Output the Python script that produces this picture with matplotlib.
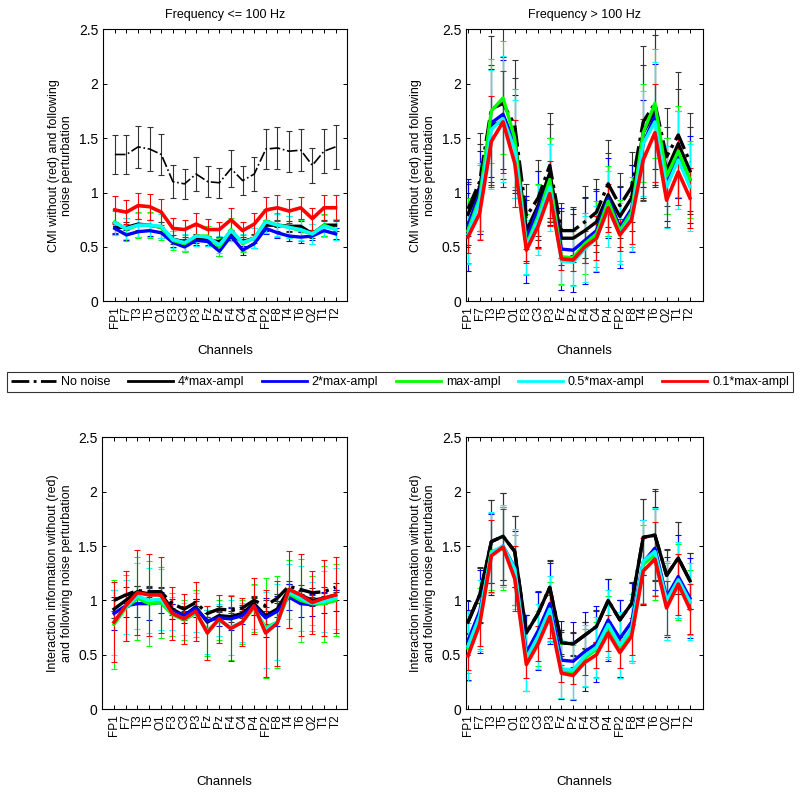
import matplotlib
matplotlib.use("Agg")
import matplotlib.pyplot as plt

plt.rcParams['font.family'] = ['Liberation Sans', 'DejaVu Sans']

channels = ["FP1", "F7", "T3", "T5", "O1", "F3", "C3", "P3", "Fz", "Pz",
            "F4", "C4", "P4", "FP2", "F8", "T4", "T6", "O2", "T1", "T2"]
series_labels = ["No noise", "4*max-ampl", "2*max-ampl", "max-ampl", "0.5*max-ampl", "0.1*max-ampl"]

# top-left: CMI, frequency <= 100 Hz
cmi_low_none = [1.35, 1.35, 1.42, 1.40, 1.35, 1.10, 1.08, 1.17, 1.10, 1.09, 1.22, 1.11, 1.17, 1.40, 1.41, 1.38, 1.39, 1.25, 1.38, 1.42]
cmi_low_x4 = [0.68, 0.68, 0.71, 0.70, 0.68, 0.57, 0.55, 0.58, 0.56, 0.55, 0.61, 0.55, 0.58, 0.70, 0.70, 0.69, 0.69, 0.62, 0.70, 0.70]
cmi_low_x2 = [0.67, 0.61, 0.64, 0.65, 0.63, 0.54, 0.50, 0.56, 0.55, 0.46, 0.60, 0.47, 0.53, 0.67, 0.63, 0.60, 0.59, 0.60, 0.65, 0.62]
cmi_low_x1 = [0.73, 0.66, 0.70, 0.70, 0.68, 0.56, 0.53, 0.60, 0.60, 0.50, 0.66, 0.53, 0.58, 0.74, 0.70, 0.68, 0.65, 0.62, 0.70, 0.66]
cmi_low_x05 = [0.72, 0.67, 0.70, 0.70, 0.69, 0.57, 0.54, 0.60, 0.59, 0.52, 0.65, 0.54, 0.58, 0.73, 0.70, 0.68, 0.66, 0.62, 0.69, 0.66]
cmi_low_x01 = [0.84, 0.82, 0.88, 0.87, 0.82, 0.67, 0.66, 0.71, 0.66, 0.66, 0.75, 0.65, 0.71, 0.84, 0.86, 0.83, 0.86, 0.76, 0.86, 0.86]
cmi_low_none_err = [0.18, 0.18, 0.19, 0.20, 0.19, 0.15, 0.14, 0.16, 0.14, 0.14, 0.17, 0.13, 0.16, 0.18, 0.19, 0.19, 0.19, 0.16, 0.20, 0.20]
cmi_low_x4_err = [0.05, 0.05, 0.05, 0.05, 0.05, 0.04, 0.04, 0.04, 0.04, 0.04, 0.05, 0.04, 0.04, 0.05, 0.05, 0.05, 0.05, 0.04, 0.05, 0.05]
cmi_low_x2_err = [0.05, 0.05, 0.05, 0.05, 0.05, 0.04, 0.04, 0.04, 0.04, 0.04, 0.05, 0.04, 0.04, 0.05, 0.05, 0.05, 0.05, 0.04, 0.05, 0.05]
cmi_low_x1_err = [0.12, 0.11, 0.12, 0.12, 0.12, 0.09, 0.08, 0.09, 0.09, 0.08, 0.11, 0.08, 0.09, 0.11, 0.11, 0.10, 0.10, 0.09, 0.10, 0.10]
cmi_low_x05_err = [0.11, 0.10, 0.11, 0.11, 0.11, 0.08, 0.08, 0.09, 0.08, 0.08, 0.10, 0.08, 0.09, 0.10, 0.10, 0.10, 0.10, 0.09, 0.10, 0.10]
cmi_low_x01_err = [0.13, 0.11, 0.12, 0.12, 0.12, 0.10, 0.09, 0.10, 0.10, 0.07, 0.11, 0.08, 0.10, 0.12, 0.12, 0.11, 0.10, 0.10, 0.12, 0.12]

# top-right: CMI, frequency > 100 Hz
cmi_high_none = [0.85, 1.10, 1.77, 1.82, 1.62, 0.78, 0.95, 1.25, 0.65, 0.65, 0.73, 0.82, 1.08, 0.88, 1.05, 1.65, 1.82, 1.33, 1.53, 1.28]
cmi_high_x4 = [0.80, 1.05, 1.62, 1.65, 1.50, 0.65, 0.88, 1.18, 0.58, 0.58, 0.65, 0.73, 0.98, 0.78, 0.95, 1.55, 1.75, 1.20, 1.45, 1.20]
cmi_high_x2 = [0.70, 1.00, 1.64, 1.72, 1.45, 0.57, 0.85, 1.10, 0.48, 0.47, 0.56, 0.65, 0.95, 0.68, 0.85, 1.45, 1.70, 1.12, 1.35, 1.12]
cmi_high_x1 = [0.65, 0.95, 1.75, 1.87, 1.50, 0.52, 0.78, 1.12, 0.41, 0.40, 0.53, 0.62, 0.92, 0.65, 0.82, 1.55, 1.82, 1.15, 1.38, 1.12]
cmi_high_x05 = [0.62, 0.92, 1.58, 1.68, 1.40, 0.50, 0.75, 1.05, 0.37, 0.36, 0.48, 0.58, 0.85, 0.62, 0.78, 1.45, 1.65, 1.05, 1.30, 1.05]
cmi_high_x01 = [0.59, 0.81, 1.47, 1.65, 1.27, 0.47, 0.69, 0.99, 0.39, 0.38, 0.50, 0.58, 0.86, 0.61, 0.75, 1.30, 1.55, 0.93, 1.19, 0.95]
cmi_high_none_err = [0.25, 0.45, 0.67, 0.70, 0.60, 0.30, 0.35, 0.48, 0.25, 0.22, 0.33, 0.30, 0.40, 0.30, 0.32, 0.70, 0.75, 0.45, 0.58, 0.45]
cmi_high_x4_err = [0.28, 0.40, 0.55, 0.60, 0.55, 0.28, 0.32, 0.45, 0.25, 0.22, 0.30, 0.28, 0.38, 0.28, 0.30, 0.62, 0.70, 0.40, 0.50, 0.40]
cmi_high_x2_err = [0.42, 0.38, 0.50, 0.50, 0.45, 0.40, 0.35, 0.40, 0.38, 0.38, 0.40, 0.38, 0.37, 0.37, 0.40, 0.40, 0.48, 0.38, 0.40, 0.40]
cmi_high_x1_err = [0.30, 0.30, 0.48, 0.52, 0.45, 0.28, 0.30, 0.38, 0.25, 0.25, 0.28, 0.30, 0.32, 0.28, 0.32, 0.45, 0.50, 0.35, 0.42, 0.35]
cmi_high_x05_err = [0.28, 0.35, 0.55, 0.58, 0.45, 0.25, 0.32, 0.40, 0.22, 0.22, 0.30, 0.30, 0.35, 0.28, 0.32, 0.48, 0.55, 0.38, 0.45, 0.40]
cmi_high_x01_err = [0.15, 0.25, 0.42, 0.47, 0.40, 0.12, 0.20, 0.30, 0.10, 0.10, 0.15, 0.20, 0.22, 0.15, 0.22, 0.38, 0.45, 0.25, 0.30, 0.28]

# bottom-left: interaction information, frequency <= 100 Hz
ii_low_none = [1.00, 1.05, 1.09, 1.08, 1.08, 0.97, 0.92, 0.98, 0.88, 0.92, 0.91, 0.93, 1.00, 0.95, 1.02, 1.13, 1.10, 1.07, 1.08, 1.12]
ii_low_x4 = [0.92, 1.00, 1.08, 1.06, 1.06, 0.92, 0.86, 0.94, 0.80, 0.86, 0.85, 0.88, 0.97, 0.86, 0.92, 1.10, 1.05, 1.00, 1.02, 1.05]
ii_low_x2 = [0.88, 0.95, 0.97, 0.97, 0.98, 0.90, 0.86, 0.93, 0.81, 0.84, 0.83, 0.86, 0.95, 0.84, 0.90, 1.03, 0.97, 0.96, 0.98, 1.00]
ii_low_x1 = [0.78, 0.93, 1.02, 0.97, 0.98, 0.87, 0.82, 0.88, 0.72, 0.82, 0.75, 0.80, 0.93, 0.75, 0.80, 1.06, 1.00, 0.97, 0.97, 1.00]
ii_low_x05 = [0.80, 0.94, 1.04, 1.00, 1.01, 0.88, 0.83, 0.89, 0.71, 0.82, 0.75, 0.80, 0.94, 0.73, 0.80, 1.08, 1.02, 0.97, 0.99, 1.02]
ii_low_x01 = [0.80, 0.95, 1.07, 1.05, 1.05, 0.88, 0.83, 0.90, 0.70, 0.83, 0.74, 0.80, 0.95, 0.70, 0.79, 1.10, 1.05, 0.98, 1.02, 1.05]
ii_low_none_err = [0.10, 0.07, 0.04, 0.05, 0.04, 0.04, 0.03, 0.03, 0.03, 0.03, 0.03, 0.03, 0.04, 0.05, 0.04, 0.05, 0.04, 0.04, 0.04, 0.04]
ii_low_x4_err = [0.08, 0.06, 0.05, 0.05, 0.05, 0.05, 0.04, 0.05, 0.05, 0.04, 0.05, 0.04, 0.05, 0.08, 0.07, 0.05, 0.05, 0.05, 0.05, 0.05]
ii_low_x2_err = [0.15, 0.10, 0.12, 0.15, 0.10, 0.07, 0.07, 0.08, 0.07, 0.08, 0.10, 0.08, 0.08, 0.18, 0.14, 0.12, 0.12, 0.10, 0.10, 0.10]
ii_low_x1_err = [0.41, 0.30, 0.38, 0.39, 0.33, 0.20, 0.18, 0.22, 0.23, 0.18, 0.30, 0.20, 0.22, 0.46, 0.42, 0.31, 0.38, 0.25, 0.35, 0.33]
ii_low_x05_err = [0.30, 0.25, 0.30, 0.30, 0.28, 0.15, 0.15, 0.18, 0.20, 0.15, 0.25, 0.18, 0.20, 0.35, 0.35, 0.25, 0.30, 0.20, 0.28, 0.28]
ii_low_x01_err = [0.37, 0.32, 0.39, 0.38, 0.35, 0.24, 0.23, 0.27, 0.25, 0.22, 0.30, 0.22, 0.26, 0.40, 0.39, 0.35, 0.38, 0.29, 0.35, 0.35]

# bottom-right: interaction information, frequency > 100 Hz
ii_high_none = [0.80, 1.05, 1.54, 1.59, 1.45, 0.70, 0.88, 1.12, 0.61, 0.60, 0.68, 0.76, 1.00, 0.82, 0.97, 1.58, 1.60, 1.23, 1.39, 1.18]
ii_high_x4 = [0.80, 1.05, 1.54, 1.59, 1.45, 0.70, 0.88, 1.12, 0.61, 0.60, 0.68, 0.76, 1.00, 0.82, 0.97, 1.58, 1.60, 1.23, 1.39, 1.18]
ii_high_x2 = [0.63, 0.90, 1.42, 1.50, 1.30, 0.52, 0.72, 0.97, 0.45, 0.44, 0.53, 0.60, 0.82, 0.65, 0.80, 1.35, 1.48, 1.03, 1.22, 1.02]
ii_high_x1 = [0.56, 0.83, 1.45, 1.48, 1.28, 0.45, 0.65, 0.90, 0.35, 0.34, 0.47, 0.55, 0.76, 0.57, 0.72, 1.33, 1.42, 0.99, 1.17, 0.98]
ii_high_x05 = [0.58, 0.86, 1.44, 1.50, 1.29, 0.47, 0.67, 0.92, 0.37, 0.36, 0.49, 0.57, 0.78, 0.59, 0.74, 1.36, 1.45, 1.00, 1.19, 0.99]
ii_high_x01 = [0.49, 0.78, 1.41, 1.49, 1.20, 0.41, 0.60, 0.85, 0.33, 0.31, 0.43, 0.50, 0.70, 0.52, 0.67, 1.27, 1.38, 0.93, 1.15, 0.92]
ii_high_none_err = [0.10, 0.25, 0.38, 0.40, 0.33, 0.17, 0.20, 0.25, 0.10, 0.10, 0.12, 0.15, 0.20, 0.18, 0.20, 0.35, 0.42, 0.23, 0.33, 0.26]
ii_high_x4_err = [0.11, 0.26, 0.38, 0.40, 0.33, 0.17, 0.21, 0.24, 0.12, 0.11, 0.12, 0.14, 0.20, 0.18, 0.19, 0.35, 0.41, 0.24, 0.33, 0.26]
ii_high_x2_err = [0.36, 0.38, 0.37, 0.36, 0.34, 0.35, 0.36, 0.37, 0.36, 0.36, 0.36, 0.35, 0.38, 0.35, 0.36, 0.39, 0.38, 0.37, 0.38, 0.37]
ii_high_x1_err = [0.23, 0.28, 0.35, 0.38, 0.32, 0.28, 0.25, 0.27, 0.25, 0.25, 0.27, 0.25, 0.28, 0.28, 0.28, 0.36, 0.42, 0.35, 0.35, 0.30]
ii_high_x05_err = [0.32, 0.33, 0.37, 0.38, 0.37, 0.30, 0.30, 0.30, 0.27, 0.27, 0.28, 0.28, 0.32, 0.30, 0.32, 0.38, 0.40, 0.36, 0.35, 0.35]
ii_high_x01_err = [0.13, 0.20, 0.33, 0.35, 0.30, 0.12, 0.16, 0.20, 0.08, 0.08, 0.12, 0.12, 0.17, 0.14, 0.17, 0.30, 0.34, 0.25, 0.28, 0.23]

colors = ["black", "black", "#0000ff", "#00ff00", "#00ffff", "#ff0000"]
err_colors = ["#333333", "#333333", "#0000ff", "#00ff00", "#00ffff", "#ff0000"]
styles = ["-.", "-", "-", "-", "-", "-"]
widths = [1.8, 2.4, 2.4, 2.4, 2.4, 2.6]

panels = [
    dict(pos=[0.129, 0.621, 0.305, 0.342], xlim=(0, 21), title="Frequency <= 100 Hz",
         ylabel="CMI without (red) and following\nnoise perturbation",
         series=[cmi_low_none, cmi_low_x4, cmi_low_x2, cmi_low_x1, cmi_low_x05, cmi_low_x01],
         errs=[cmi_low_none_err, cmi_low_x4_err, cmi_low_x2_err, cmi_low_x1_err, cmi_low_x05_err, cmi_low_x01_err],
         no_noise_width=1.2, xpad=12),
    dict(pos=[0.5825, 0.621, 0.296, 0.342], xlim=(0.83, 21.1), title="Frequency > 100 Hz",
         ylabel="CMI without (red) and following\nnoise perturbation",
         series=[cmi_high_none, cmi_high_x4, cmi_high_x2, cmi_high_x1, cmi_high_x05, cmi_high_x01],
         errs=[cmi_high_none_err, cmi_high_x4_err, cmi_high_x2_err, cmi_high_x1_err, cmi_high_x05_err, cmi_high_x01_err],
         no_noise_width=2.4, xpad=12),
    dict(pos=[0.128, 0.108, 0.306, 0.342], xlim=(0, 21), title=None,
         ylabel="Interaction information without (red)\nand following noise perturbation",
         series=[ii_low_none, ii_low_x4, ii_low_x2, ii_low_x1, ii_low_x05, ii_low_x01],
         errs=[ii_low_none_err, ii_low_x4_err, ii_low_x2_err, ii_low_x1_err, ii_low_x05_err, ii_low_x01_err],
         no_noise_width=2.4, xpad=29),
    dict(pos=[0.5825, 0.108, 0.296, 0.342], xlim=(0.83, 21.1), title=None,
         ylabel="Interaction information without (red)\nand following noise perturbation",
         series=[ii_high_none, ii_high_x4, ii_high_x2, ii_high_x1, ii_high_x05, ii_high_x01],
         errs=[ii_high_none_err, ii_high_x4_err, ii_high_x2_err, ii_high_x1_err, ii_high_x05_err, ii_high_x01_err],
         no_noise_width=2.4, xpad=29),
]

fig = plt.figure(figsize=(8, 7.95), dpi=100)
x = list(range(1, len(channels) + 1))
handles = []

for p in panels:
    ax = fig.add_axes(p["pos"])
    # error bars first, then lines on top
    for i, (vals, err) in enumerate(zip(p["series"], p["errs"])):
        ax.errorbar(x, vals, yerr=err, fmt="none", ecolor=err_colors[i], elinewidth=0.8,
                    capsize=2.5, capthick=0.8, zorder=2 + i * 0.1)
    lines = []
    for i, vals in enumerate(p["series"]):
        lw = p["no_noise_width"] if i == 0 else widths[i]
        ln, = ax.plot(x, vals, color=colors[i], linestyle=styles[i], linewidth=lw,
                      label=series_labels[i], zorder=3 + i * 0.1)
        lines.append(ln)
    handles = lines
    ax.set_xlim(*p["xlim"])
    ax.set_ylim(0, 2.5)
    ax.set_yticks([0, 0.5, 1, 1.5, 2, 2.5])
    ax.set_yticklabels(["0", "0.5", "1", "1.5", "2", "2.5"])
    ax.set_xticks(x)
    ax.set_xticklabels(channels, rotation=90, fontsize=8.5)
    ax.tick_params(axis="both", direction="in", top=True, right=True, length=3, width=0.7)
    ax.tick_params(axis="y", labelsize=10)
    for s in ax.spines.values():
        s.set_linewidth(0.8)
    ax.set_xlabel("Channels", fontsize=9.5, labelpad=p["xpad"])
    ax.set_ylabel(p["ylabel"], fontsize=9)
    if p["title"]:
        ax.set_title(p["title"], fontsize=9, pad=8)

leg = fig.legend(handles, series_labels, loc="center", bbox_to_anchor=(0.5, 0.5195),
                 ncol=6, fontsize=9, handlelength=3.6, handletextpad=0.4, columnspacing=1.4,
                 frameon=True, fancybox=False, edgecolor="black", borderpad=0.35)
leg.get_frame().set_linewidth(0.8)
for h in leg.get_lines():
    h.set_linewidth(2.0)

fig.savefig("out.png", dpi=100)
